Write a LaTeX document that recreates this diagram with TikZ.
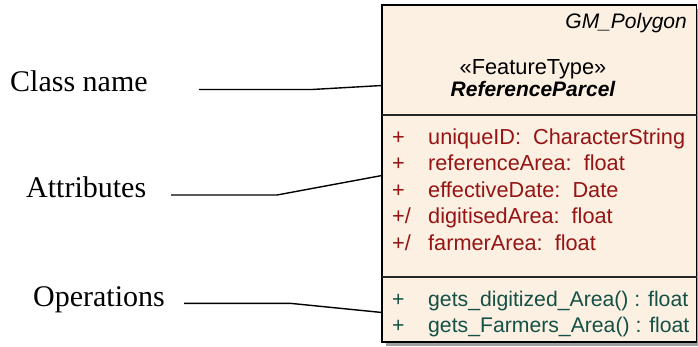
\documentclass[tikz,border=0pt]{standalone}
\usepackage{fontspec}
\setmainfont{Liberation Serif}
\newfontfamily\arialf{Liberation Sans}
\definecolor{boxfill}{RGB}{251,240,226}
\definecolor{attrred}{RGB}{150,20,20}
\definecolor{opteal}{RGB}{20,80,70}
\definecolor{shadowgray}{RGB}{160,160,160}
\tikzset{
  lbl/.style={font=\fontsize{30}{33}\selectfont, anchor=base west, inner sep=0pt},
  umltxt/.style={font=\arialf\fontsize{21}{24}\selectfont, inner sep=0pt},
  attr/.style={font=\arialf\fontsize{21.7}{24}\selectfont, inner sep=0pt, text=attrred, anchor=base west},
  oper/.style={font=\arialf\fontsize{21.2}{24}\selectfont, inner sep=0pt, text=opteal, anchor=base west},
  conn/.style={line width=1.4pt},
  sepline/.style={line width=1.6pt, draw=black!85}
}
\begin{document}
\begin{tikzpicture}[x=1pt,y=-1pt]
\useasboundingbox (0,0) rectangle (698,347);
% shadow
\fill[shadowgray] (386,9) rectangle (700,346);
% class box
\draw[line width=1.8pt, fill=boxfill] (382,5) rectangle (696.5,342);
\draw[sepline] (382,115) -- (696.5,115);
\draw[sepline] (382,277) -- (696.5,277);
% header
\node[umltxt, font=\arialf\itshape\fontsize{21}{24}\selectfont, anchor=base east] (stereo2) at (687,28.3) {GM\_Polygon};
\node[umltxt, font=\arialf\fontsize{21.8}{24}\selectfont, anchor=base] (stereo) at (533,75) {«FeatureType»};
\node[umltxt, font=\arialf\bfseries\itshape\fontsize{21}{24}\selectfont, anchor=base] (cname) at (533,96.7) {ReferenceParcel};
% attributes
\node[attr] (p1) at (392,144.3) {+};
\node[attr] (a1) at (428,144.3) {uniqueID:\ \ CharacterString};
\node[attr] (p2) at (392,170.8) {+};
\node[attr] (a2) at (428,170.8) {referenceArea:\ \ float};
\node[attr] (p3) at (392,197.3) {+};
\node[attr] (a3) at (428,197.3) {effectiveDate:\ \ Date};
\node[attr] (p4) at (392,223.8) {+/};
\node[attr] (a4) at (428,223.8) {digitisedArea:\ \ float};
\node[attr] (p5) at (392,250.3) {+/};
\node[attr] (a5) at (428,250.3) {farmerArea:\ \ float};
% operations
\node[oper] (q1) at (392,306.7) {+};
\node[oper] (o1) at (428,306.7) {gets\_digitized\_Area() : float};
\node[oper] (q2) at (392,332.7) {+};
\node[oper] (o2) at (428,332.7) {gets\_Farmers\_Area() : float};
% left labels
\node[lbl] (lcn) at (10,91.7) {Class name};
\node[lbl] (lat) at (26,197.7) {Attributes};
\node[lbl] (lop) at (33,306) {Operations};
% connector points
\coordinate (cn0) at (199,89.5);
\coordinate (cn1) at (312,89.5);
\coordinate (cn2) at (382,85.5);
\coordinate (at0) at (171,195);
\coordinate (at1) at (277,195);
\coordinate (at2) at (382,175.5);
\coordinate (op0) at (184,303.3);
\coordinate (op1) at (290,303.3);
\coordinate (op2) at (382,312.5);
\draw[conn] (cn0) -- (cn1) -- (cn2);
\draw[conn] (at0) -- (at1) -- (at2);
\draw[conn] (op0) -- (op1) -- (op2);
\end{tikzpicture}
\end{document}
